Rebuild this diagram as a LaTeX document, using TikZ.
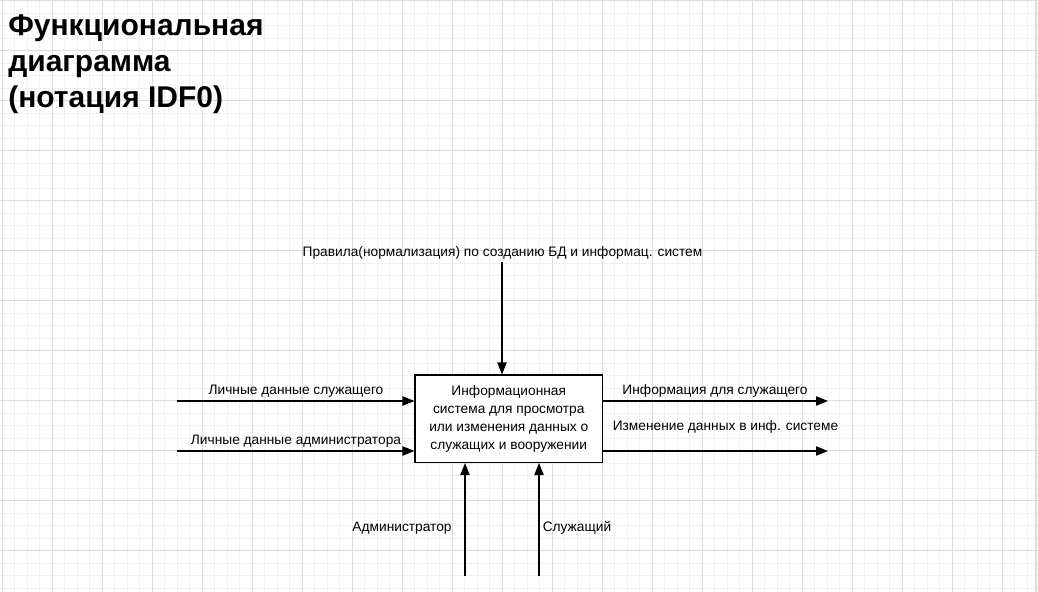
\documentclass[tikz,border=0pt]{standalone}
\usepackage{fontspec}
\setmainfont{Liberation Sans}
\usetikzlibrary{arrows.meta,positioning}

\definecolor{gridminor}{HTML}{F0F0F0}
\definecolor{gridmajor}{HTML}{DCDCDC}

\begin{document}
\begin{tikzpicture}[
	x=0.75pt,y=-0.75pt,
	every node/.style={font=\fontsize{10.3}{13.5}\selectfont},
	func/.style={
		draw,line width=0.9pt,
		minimum width=140.6pt,
		minimum height=65.6pt,
		align=center,
		inner sep=2pt,
	},
	flow/.style={-{Triangle[length=9pt,width=7pt]},line width=0.9pt},
	lbl/.style={anchor=base,inner sep=0pt},
	minorline/.style={gridminor,line width=0.6pt},
	majorline/.style={gridmajor,line width=0.6pt},
]

\useasboundingbox (0,0) rectangle (1038,592);
\fill[white] (0,0) rectangle (1038,592);

% Grid
\foreach \i in {0,...,82} \draw[minorline] (2+12.5*\i,0) -- (2+12.5*\i,592);
\foreach \j in {0,...,47} \draw[minorline] (0,0.5+12.5*\j) -- (1038,0.5+12.5*\j);
\foreach \i in {0,...,20} \draw[majorline] (2+50*\i,0) -- (2+50*\i,592);
\foreach \j in {0,...,11} \draw[majorline] (0,0.5+50*\j) -- (1038,0.5+50*\j);
\draw[gridmajor,line width=0.8pt] (1036,0) -- (1036,592);

% Title
\node [
	anchor=base west,align=left,inner sep=0pt,
	font=\bfseries\fontsize{22.5}{27}\selectfont,
] (title) at (8,108) {Функциональная\\диаграмма\\(нотация IDF0)};

% Function box
\node [func,fill=white] (sys) at (508.75,418.75) {
	Информационная\\
	система для просмотра\\
	или изменения данных о\\
	служащих и вооружении
};

% Free ends of the arrows
\coordinate (in1) at (177,401);
\coordinate (in2) at (177,451);
\coordinate (out1) at (828,401);
\coordinate (out2) at (828,451);
\coordinate (ctrl) at (502,262);
\coordinate (mech1) at (465,576);
\coordinate (mech2) at (539,576);

% Inputs
\draw[flow] (in1) -- (in1 -| sys.west);
\draw[flow] (in2) -- (in2 -| sys.west);
\node [lbl] (lin1) at (296,394) {Личные данные служащего};
\node [lbl] (lin2) at (296,444) {Личные данные администратора};

% Outputs
\draw[flow] (out1 -| sys.east) -- (out1);
\draw[flow] (out2 -| sys.east) -- (out2);
\node [lbl] (lout1) at (715,394) {Информация для служащего};
\node [lbl] (lout2) at (725.5,430) {Изменение данных в инф. системе};

% Control
\draw[flow] (ctrl) -- (ctrl |- sys.north);
\node [lbl] (lctrl) at (502.5,256.5) {Правила(нормализация) по созданию БД и информац. систем};

% Mechanisms
\draw[flow] (mech1) -- (mech1 |- sys.south);
\draw[flow] (mech2) -- (mech2 |- sys.south);
\node [lbl] (lmech1) at (402,531.5) {Администратор};
\node [lbl] (lmech2) at (577,531.5) {Служащий};

\end{tikzpicture}
\end{document}
